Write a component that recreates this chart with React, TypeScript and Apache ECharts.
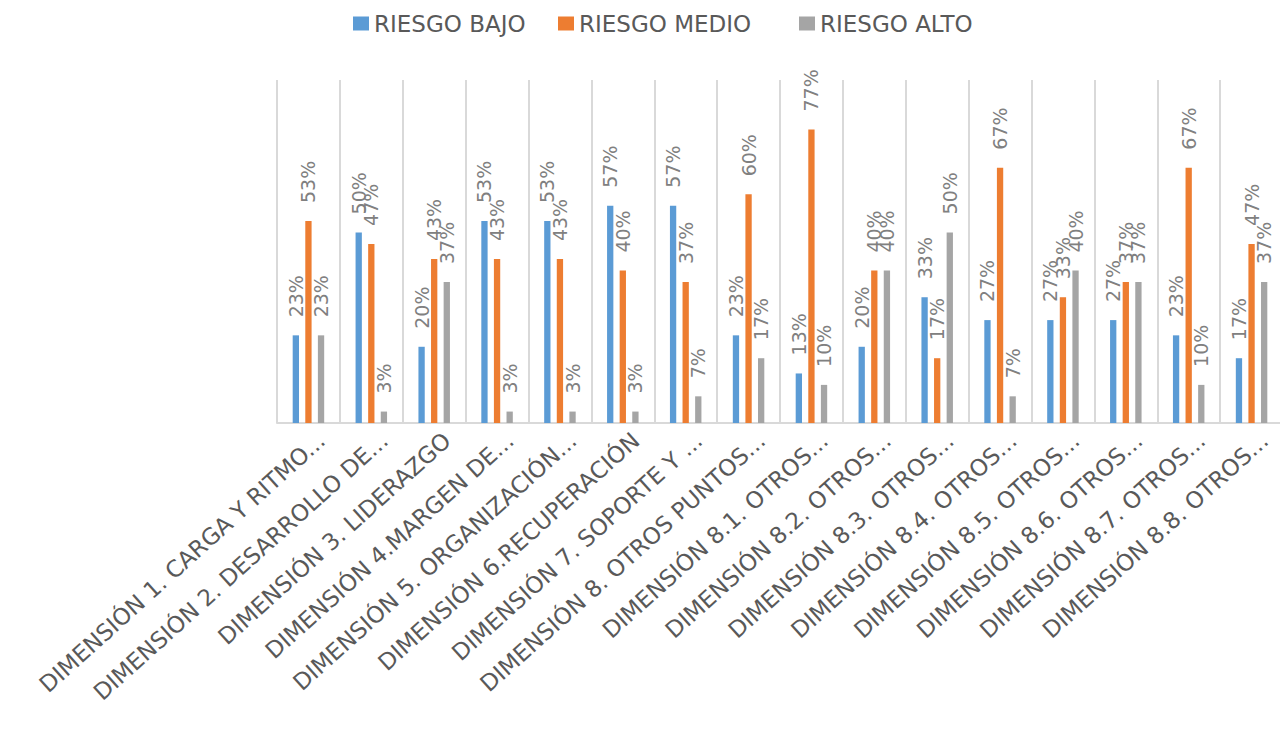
import React, { useEffect, useRef } from "react";
import * as echarts from "echarts";

const categories: string[] = [
  "DIMENSIÓN 1. CARGA Y RITMO...",
  "DIMENSIÓN 2. DESARROLLO DE...",
  "DIMENSIÓN 3. LIDERAZGO",
  "DIMENSIÓN 4.MARGEN DE...",
  "DIMENSIÓN 5. ORGANIZACIÓN...",
  "DIMENSIÓN 6.RECUPERACIÓN",
  "DIMENSIÓN 7. SOPORTE Y ...",
  "DIMENSIÓN 8. OTROS PUNTOS...",
  "DIMENSIÓN 8.1. OTROS...",
  "DIMENSIÓN 8.2. OTROS...",
  "DIMENSIÓN 8.3. OTROS...",
  "DIMENSIÓN 8.4. OTROS...",
  "DIMENSIÓN 8.5. OTROS...",
  "DIMENSIÓN 8.6. OTROS...",
  "DIMENSIÓN 8.7. OTROS...",
  "DIMENSIÓN 8.8. OTROS...",
];

const riesgoBajo: number[] = [23, 50, 20, 53, 53, 57, 57, 23, 13, 20, 33, 27, 27, 27, 23, 17];
const riesgoMedio: number[] = [53, 47, 43, 43, 43, 40, 37, 60, 77, 40, 17, 67, 33, 37, 67, 47];
const riesgoAlto: number[] = [23, 3, 37, 3, 3, 3, 7, 17, 10, 40, 50, 7, 40, 37, 10, 37];

const seriesNames: string[] = ["RIESGO BAJO", "RIESGO MEDIO", "RIESGO ALTO"];
const seriesColors: string[] = ["#5b9bd5", "#ed7d31", "#a5a5a5"];
const seriesData: number[][] = [riesgoBajo, riesgoMedio, riesgoAlto];
const legendLefts: number[] = [353, 558, 799];

export default function App() {
  const ref = useRef<HTMLDivElement>(null);

  useEffect(() => {
    if (!ref.current) return;
    const chart = echarts.init(ref.current, undefined, { renderer: "svg" });
    const gridLeft = 277;
    const gridWidth = 1006;
    const option: any = {
      animation: false,
      backgroundColor: "#ffffff",
      legend: seriesNames.map((n, i) => ({
        data: [n],
        left: legendLefts[i],
        top: 12,
        padding: 0,
        icon: "rect",
        itemWidth: 16,
        itemHeight: 14,
        selectedMode: false,
        textStyle: {
          color: "#595959",
          fontSize: 23,
          fontFamily: "DejaVu Sans",
        },
      })),
      grid: [
        { left: gridLeft, width: gridWidth, top: 80, height: 343, containLabel: false },
        { left: gridLeft + 13, width: gridWidth, top: 80, height: 343, containLabel: false },
      ],
      xAxis: [
        {
          type: "category",
          gridIndex: 0,
          data: categories,
          boundaryGap: true,
          axisLine: { show: true, lineStyle: { color: "#d9d9d9", width: 2 } },
          axisTick: { show: false },
          axisLabel: { show: false },
          splitLine: { show: true, interval: 0, lineStyle: { color: "#d9d9d9", width: 2 } },
        },
        {
          type: "category",
          gridIndex: 1,
          data: categories,
          boundaryGap: true,
          axisLine: { show: false },
          axisTick: { show: false },
          splitLine: { show: false },
          axisLabel: {
            show: true,
            interval: 0,
            rotate: 42,
            margin: 14,
            color: "#595959",
            fontSize: 23,
            fontFamily: "DejaVu Sans",
          },
        },
      ],
      yAxis: [
        { type: "value", gridIndex: 0, min: 0, max: 90, show: false, splitLine: { show: false } },
        { type: "value", gridIndex: 1, min: 0, max: 1, show: false, splitLine: { show: false } },
      ],
      series: seriesNames.map((n, i) => ({
        name: n,
        type: "bar",
        xAxisIndex: 0,
        yAxisIndex: 0,
        data: seriesData[i],
        barWidth: 6.3,
        barGap: "100%",
        itemStyle: { color: seriesColors[i] },
        label: {
          show: true,
          position: "top",
          rotate: 90,
          align: "left",
          verticalAlign: "middle",
          distance: 18,
          formatter: "{c}%",
          color: "#808080",
          fontSize: 19,
          fontFamily: "DejaVu Sans",
        },
      })),
    };
    chart.setOption(option);
    return () => chart.dispose();
  }, []);

  return (
    <div
      ref={ref}
      style={{ position: "fixed", left: 0, top: 0, width: 1320, height: 733, background: "#fff" }}
    />
  );
}
